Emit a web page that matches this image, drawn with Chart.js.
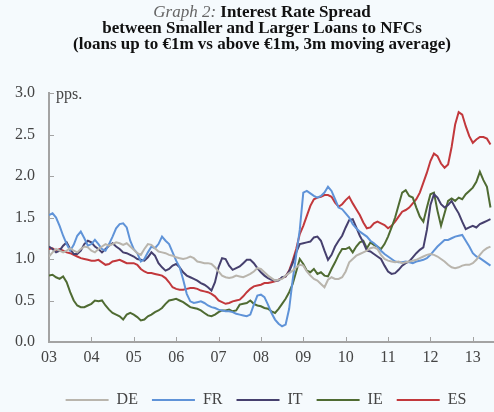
<!DOCTYPE html>
<html><head><meta charset="utf-8">
<script src="https://cdn.jsdelivr.net/npm/chart.js@4/dist/chart.umd.min.js"></script>
<style>
html,body{margin:0;padding:0;background:#f5fafd;}
#wrap{position:relative;width:494px;height:412px;overflow:hidden;}
#title{position:absolute;left:30px;top:4px;width:464px;text-align:center;font-family:"Liberation Serif",serif;font-size:17px;font-weight:bold;line-height:16px;color:#111;}
#title i{font-weight:normal;color:#666;}
canvas{position:absolute;left:0;top:0;}
</style></head><body>
<div id="wrap"><canvas id="c" width="494" height="412"></canvas>
<div id="title"><i>Graph 2:</i> Interest Rate Spread<br>between Smaller and Larger Loans to NFCs<br>(loans up to €1m vs above €1m, 3m moving average)</div></div>
<script>
// monthly values, Jan 2003 .. Jun 2013 (pps.)
const yearTicks = [0,12,24,36,48,60,72,84,96,108,120];
const yearLabels = ['03','04','05','06','07','08','09','10','11','12','13'];
const seriesNames = ['DE','FR','IT','IE','ES'];

const DE = [1.03,1.08,1.12,1.10,1.08,1.10,1.13,1.10,1.08,1.12,1.15,1.14,
1.10,1.08,1.12,1.15,1.18,1.16,1.18,1.20,1.19,1.17,1.19,1.15,
1.11,1.07,1.05,1.12,1.18,1.17,1.13,1.09,1.08,1.07,1.05,1.04,
1.02,1.01,1.00,1.01,1.03,1.01,0.97,0.96,0.95,0.95,0.94,0.90,
0.85,0.80,0.78,0.77,0.78,0.80,0.79,0.78,0.80,0.82,0.85,0.89,
0.88,0.84,0.80,0.77,0.74,0.75,0.76,0.80,0.83,0.86,0.90,0.93,
0.92,0.85,0.80,0.76,0.74,0.70,0.66,0.75,0.78,0.76,0.76,0.78,
0.85,0.96,1.00,1.04,1.06,1.08,1.10,1.13,1.14,1.12,1.05,1.00,
0.98,0.97,0.96,0.97,0.95,0.96,0.97,0.98,0.99,1.01,1.03,1.05,
1.06,1.05,1.03,1.00,0.97,0.93,0.90,0.89,0.90,0.92,0.93,0.93,
0.95,0.99,1.05,1.10,1.13,1.15];

const FR = [1.53,1.55,1.50,1.40,1.28,1.18,1.10,1.17,1.28,1.33,1.25,1.16,
1.18,1.23,1.18,1.12,1.10,1.18,1.27,1.37,1.42,1.43,1.38,1.22,
1.12,1.07,0.97,1.00,1.08,1.15,1.13,1.18,1.27,1.22,1.18,1.08,
0.98,0.90,0.75,0.58,0.49,0.47,0.48,0.49,0.47,0.44,0.42,0.41,
0.39,0.38,0.37,0.37,0.36,0.34,0.33,0.32,0.31,0.33,0.45,0.56,
0.57,0.54,0.45,0.35,0.27,0.22,0.19,0.21,0.40,0.75,1.05,1.35,
1.80,1.82,1.79,1.76,1.74,1.76,1.80,1.87,1.82,1.72,1.62,1.60,
1.55,1.50,1.42,1.37,1.33,1.30,1.27,1.22,1.19,1.15,1.10,1.06,
1.03,1.00,0.97,0.96,0.96,0.97,0.96,0.95,0.97,0.98,0.99,1.01,
1.05,1.10,1.15,1.19,1.23,1.23,1.25,1.27,1.28,1.29,1.22,1.15,
1.07,1.03,1.01,0.98,0.95,0.92];

const IT = [1.15,1.12,1.08,1.10,1.16,1.20,1.12,1.06,1.06,1.10,1.18,1.22,
1.20,1.15,1.12,1.08,1.12,1.16,1.19,1.15,1.12,1.08,1.07,1.05,
1.03,1.00,0.99,0.98,1.02,1.08,1.04,0.95,0.90,0.86,0.88,0.92,
0.94,0.90,0.84,0.80,0.78,0.76,0.74,0.71,0.69,0.66,0.62,0.72,
0.90,1.01,1.00,0.92,0.87,0.89,0.91,0.95,0.99,0.99,0.95,0.89,
0.84,0.80,0.77,0.75,0.74,0.74,0.78,0.79,0.85,0.95,1.08,1.18,
1.19,1.20,1.21,1.26,1.27,1.22,1.10,0.99,1.05,1.15,1.22,1.28,
1.38,1.47,1.48,1.38,1.28,1.20,1.10,1.09,1.06,1.03,1.00,0.92,
0.85,0.82,0.83,0.87,0.92,0.95,0.97,1.02,1.07,1.11,1.14,1.35,
1.65,1.78,1.74,1.66,1.62,1.65,1.70,1.62,1.55,1.45,1.36,1.38,
1.40,1.38,1.42,1.44,1.46,1.48];

const IE = [0.80,0.81,0.78,0.76,0.79,0.72,0.60,0.50,0.44,0.42,0.42,0.44,
0.46,0.50,0.49,0.50,0.44,0.39,0.35,0.33,0.31,0.27,0.33,0.35,
0.33,0.30,0.26,0.27,0.31,0.33,0.36,0.38,0.41,0.46,0.50,0.51,
0.52,0.50,0.48,0.45,0.42,0.41,0.40,0.38,0.35,0.32,0.31,0.33,
0.36,0.38,0.38,0.39,0.37,0.38,0.45,0.46,0.47,0.50,0.46,0.44,
0.43,0.41,0.40,0.37,0.35,0.40,0.46,0.52,0.60,0.70,0.85,1.00,
0.94,0.86,0.84,0.88,0.82,0.84,0.80,0.79,0.88,0.96,1.05,1.12,
1.12,1.14,1.08,1.15,1.20,1.22,1.13,1.20,1.17,1.15,1.12,1.18,
1.27,1.38,1.50,1.65,1.80,1.83,1.76,1.74,1.62,1.51,1.45,1.62,
1.78,1.80,1.58,1.40,1.55,1.70,1.73,1.70,1.74,1.72,1.78,1.82,
1.86,1.93,2.05,1.95,1.87,1.62];

const ES = [1.12,1.13,1.10,1.12,1.10,1.08,1.07,1.05,1.03,1.01,1.00,0.99,
0.98,0.98,0.99,0.96,0.93,0.94,0.97,0.98,0.99,0.97,0.95,0.95,
0.95,0.93,0.88,0.85,0.83,0.83,0.82,0.81,0.80,0.77,0.72,0.66,
0.64,0.63,0.63,0.64,0.65,0.65,0.64,0.62,0.61,0.60,0.58,0.55,
0.50,0.48,0.46,0.47,0.49,0.50,0.51,0.55,0.60,0.64,0.67,0.68,
0.69,0.71,0.71,0.72,0.73,0.75,0.77,0.79,0.86,0.98,1.12,1.30,
1.40,1.52,1.64,1.72,1.74,1.75,1.77,1.77,1.75,1.68,1.63,1.66,
1.71,1.75,1.67,1.60,1.53,1.44,1.37,1.38,1.43,1.45,1.43,1.41,
1.37,1.40,1.45,1.51,1.57,1.59,1.62,1.67,1.72,1.80,1.92,2.04,
2.18,2.27,2.24,2.15,2.10,2.14,2.35,2.62,2.77,2.74,2.60,2.48,
2.40,2.44,2.47,2.47,2.45,2.38];

const seriesValues = [DE, FR, IT, IE, ES];
const seriesColors = ['#b9b5ad', '#5f93d8', '#46406e', '#4f6b32', '#c2383c'];
const font = {family: '"Liberation Serif", "Times New Roman", serif', size: 16};
const axisColor = '#a3a3a3';

const datasets = seriesNames.map((name, k) => ({
  label: name,
  data: seriesValues[k].map((v, i) => ({x: i, y: v})),
  borderColor: seriesColors[k],
  backgroundColor: seriesColors[k],
  borderWidth: 2,
  pointRadius: 0,
  tension: 0,
  fill: false
}));

const decor = {
  id: 'decor',
  afterLayout(chart) {
    // centre the legend under the plot area and drop it a little
    const lg = chart.legend;
    if (lg) { lg.left += 38; lg.top += 6; lg.bottom += 6; }
  },
  afterDraw(chart) {
    const ctx = chart.ctx, ca = chart.chartArea, sx = chart.scales.x, sy = chart.scales.y;
    ctx.save();
    ctx.strokeStyle = axisColor;
    ctx.lineWidth = 1;
    ctx.beginPath();
    sx.ticks.forEach(t => {
      const px = Math.round(sx.getPixelForValue(t.value)) + 0.5;
      if (t.value === 0) return;
      ctx.moveTo(px, ca.bottom); ctx.lineTo(px, ca.bottom - 5);
    });
    sy.ticks.forEach(t => {
      const py = Math.round(sy.getPixelForValue(t.value)) + 0.5;
      if (t.value === 0) return;
      ctx.moveTo(ca.left, py); ctx.lineTo(ca.left + 5, py);
    });
    ctx.stroke();
    ctx.font = '16px "Liberation Serif", serif';
    ctx.fillStyle = '#444';
    ctx.textBaseline = 'middle';
    ctx.textAlign = 'left';
    ctx.fillText('pps.', ca.left + 7, sy.getPixelForValue(3) + 2);
    ctx.restore();
  }
};

new Chart(document.getElementById('c'), {
  type: 'line',
  data: {datasets},
  plugins: [decor],
  options: {
    responsive: false,
    animation: false,
    devicePixelRatio: 1,
    layout: {padding: {top: 93, right: 0, left: 0, bottom: 0}},
    plugins: {
      tooltip: {enabled: false},
      legend: {
        position: 'bottom',
        labels: {
          usePointStyle: true,
          pointStyle: 'line',
          pointStyleWidth: 43,
          font: font,
          color: '#444',
          padding: 14
        }
      }
    },
    scales: {
      x: {
        type: 'linear', min: 0, max: 126,
        afterBuildTicks: s => { s.ticks = yearTicks.map(v => ({value: v})); },
        afterFit: s => { s.height = 30; },
        ticks: {
          autoSkip: false, maxRotation: 0, padding: 6, color: '#444', font: font,
          callback: v => yearLabels[yearTicks.indexOf(v)]
        },
        grid: {drawOnChartArea: false, drawTicks: false},
        border: {color: axisColor, width: 2}
      },
      y: {
        min: 0, max: 3,
        afterFit: s => { s.width = 49; },
        ticks: {stepSize: 0.5, padding: 14, color: '#444', font: font, callback: v => v.toFixed(1)},
        grid: {drawOnChartArea: false, drawTicks: false},
        border: {color: axisColor, width: 2}
      }
    }
  }
});
</script>
</body></html>
